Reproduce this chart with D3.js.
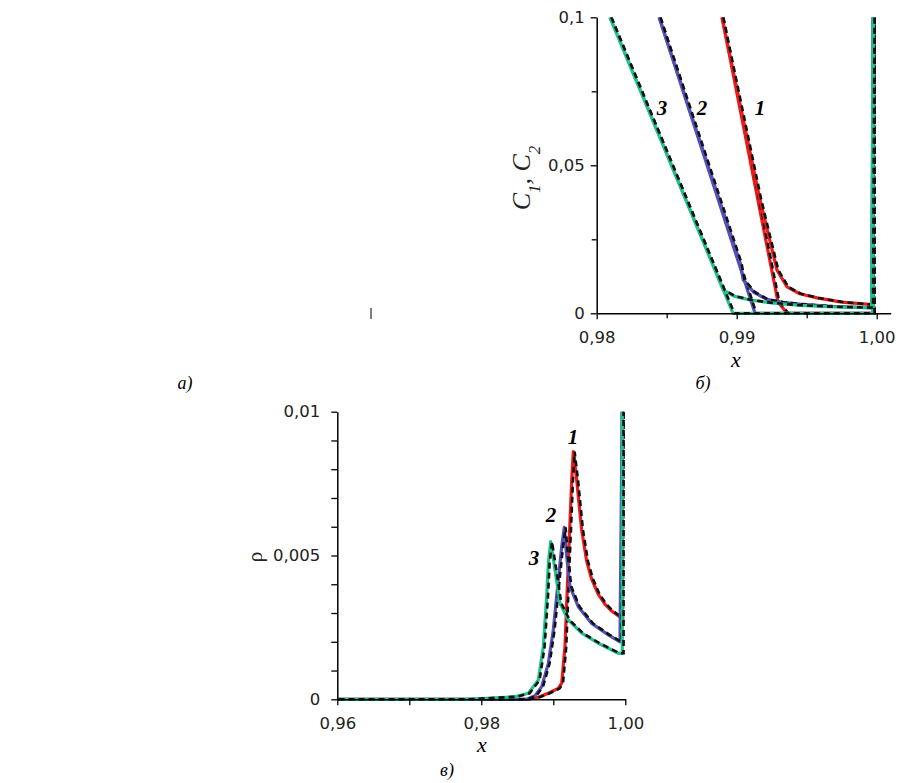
<!DOCTYPE html>
<html><head><meta charset="utf-8">
<script src="https://cdn.jsdelivr.net/npm/d3@7"></script>
<style>body{margin:0;background:#fff}</style>
</head><body>
<svg id="chart" width="903" height="783" xmlns="http://www.w3.org/2000/svg"></svg>
<script>
// ---------- Panel б : C1, C2 vs x ----------
const xbMajor = [0.98, 0.99, 1.00];
const xbLabels = ["0,98", "0,99", "1,00"];
const xbMinor = [0.985, 0.995];
const cMajor = [0, 0.05, 0.1];
const cLabels = ["0", "0,05", "0,1"];
const cMinor = [0.025, 0.075];

// C1 (sharp front) and C2 (smooth tail) for cases 1 (red), 2 (blue), 3 (green)
const c1Case1 = [[0.98895,0.1],[0.99295,0.0038],[0.9936,0],[0.99975,0],[0.99975,0.1]];
const c2Case1 = [[0.98895,0.1],[0.99167,0.0382],[0.99288,0.0146],[0.9936,0.0089],[0.9945,0.0066],[0.99574,0.0052],[0.9975,0.0038],[0.99967,0.0029],[0.99975,0.1]];
const c1Case2 = [[0.98446,0.1],[0.99131,0],[0.99975,0],[0.99975,0.1]];
const c2Case2 = [[0.98446,0.1],[0.99025,0.017],[0.99047,0.0113],[0.9912,0.0072],[0.99214,0.0047],[0.9933,0.0037],[0.99452,0.0031],[0.9970,0.0023],[0.99964,0.0018],[0.99975,0.1]];
const c1Case3 = [[0.98095,0.1],[0.98974,0],[0.99975,0],[0.99975,0.1]];
const c2Case3 = [[0.98095,0.1],[0.98864,0.0125],[0.98904,0.0079],[0.9898,0.0058],[0.99095,0.0045],[0.9925,0.0035],[0.99452,0.0027],[0.9970,0.0022],[0.99964,0.0019],[0.99975,0.1]];

// ---------- Panel в : rho vs x ----------
const xcMajor = [0.96, 0.97, 0.98, 0.99, 1.00];
const xcLabels = ["0,96", "", "0,98", "", "1,00"];
const rhoTicks = [0,0.001,0.002,0.003,0.004,0.005,0.006,0.007,0.008,0.009,0.01];
const rhoLabels = ["0","","","","","0,005","","","","","0,01"];

const rhoCase1 = [[0.96,0],[0.9865,0],[0.988,0.00008],[0.98931,0.00021],[0.99069,0.00038],[0.99117,0.00056],[0.99162,0.00183],[0.99208,0.00473],[0.99256,0.00763],[0.99278,0.00861],[0.99325,0.00763],[0.99394,0.00589],[0.99464,0.0048],[0.9953,0.0042],[0.99625,0.00365],[0.9972,0.0033],[0.99811,0.00307],[0.9995,0.00282],[0.99958,0.0105]];
const rhoCase2 = [[0.96,0],[0.9863,0],[0.98745,0.00012],[0.98839,0.00044],[0.98931,0.00125],[0.99,0.00241],[0.99069,0.00415],[0.99117,0.00531],[0.99153,0.00598],[0.99186,0.00496],[0.99232,0.00392],[0.99347,0.00322],[0.99533,0.00264],[0.99764,0.00224],[0.99926,0.002],[0.99958,0.0105]];
const rhoCase3 = [[0.96,0],[0.978,0],[0.98468,0.00009],[0.98653,0.00021],[0.98792,0.00067],[0.98861,0.00183],[0.98908,0.00357],[0.98931,0.00473],[0.98964,0.00548],[0.99024,0.0045],[0.99093,0.00334],[0.99208,0.00276],[0.99394,0.0023],[0.99625,0.00195],[0.99903,0.0016],[0.99958,0.0016],[0.99958,0.0105]];

const caseColors = ["#f01a1a", "#5252bc", "#1fc48c"];
const caseNames = ["1", "2", "3"];

const svg = d3.select("#chart");
svg.append("rect").attr("width",903).attr("height",783).attr("fill","#fff");

const tickFont = "'DejaVu Sans', Verdana, sans-serif";
const serif = "'Liberation Serif', 'Times New Roman', serif";

function labelFmt(vals, labels){
  return v => { const i = vals.findIndex(t => Math.abs(t - v) < 1e-9); return i >= 0 ? labels[i] : ""; };
}
function styleAxis(g){
  g.selectAll("path.domain").attr("stroke","#000").attr("stroke-width",1.5);
  g.selectAll(".tick line").attr("stroke","#000").attr("stroke-width",1.3);
  g.selectAll("text").attr("font-family",tickFont).attr("font-size",16.5).attr("fill","#222");
}
function drawSeries(g, data, x, y, color){
  const line = d3.line().x(d => x(d[0])).y(d => y(d[1]));
  g.append("path").attr("d", line(data)).attr("fill","none")
    .attr("stroke", color).attr("stroke-width", 3.2).attr("stroke-linejoin","round");
  g.append("path").attr("d", line(data)).attr("fill","none")
    .attr("stroke", "#111").attr("stroke-width", 2.6).attr("stroke-dasharray","6,4")
    .attr("transform","translate(1.3,0)");
}

// ===== Panel б =====
{
  const x = d3.scaleLinear().domain([0.98, 1.001]).range([596.7, 890.7]);
  const y = d3.scaleLinear().domain([0, 0.1]).range([313.3, 17.3]);
  const defs = svg.append("defs");
  defs.append("clipPath").attr("id","clipB").append("rect")
    .attr("x", x(0.98)).attr("y", y(0.1)).attr("width", x(1.001)-x(0.98)).attr("height", y(0)-y(0.1)+2);
  const plot = svg.append("g").attr("clip-path","url(#clipB)");
  const sets = [[c1Case1,c2Case1],[c1Case2,c2Case2],[c1Case3,c2Case3]];
  sets.forEach((s,i) => { s.forEach(d => drawSeries(plot, d, x, y, caseColors[i])); });

  const gx = svg.append("g").attr("transform",`translate(0,${y(0)})`)
    .call(d3.axisBottom(x).tickValues(xbMajor).tickSize(6).tickSizeOuter(0).tickPadding(12).tickFormat(labelFmt(xbMajor,xbLabels)));
  styleAxis(gx);
  const gxm = svg.append("g").attr("transform",`translate(0,${y(0)})`)
    .call(d3.axisBottom(x).tickValues(xbMinor).tickSize(5).tickFormat(""));
  gxm.select("path.domain").remove(); styleAxis(gxm);
  const gy = svg.append("g").attr("transform",`translate(${x(0.98)},0)`)
    .call(d3.axisLeft(y).tickValues(cMajor).tickSize(6).tickSizeOuter(0).tickPadding(6).tickFormat(labelFmt(cMajor,cLabels)));
  styleAxis(gy);
  const gym = svg.append("g").attr("transform",`translate(${x(0.98)},0)`)
    .call(d3.axisLeft(y).tickValues(cMinor).tickSize(5).tickFormat(""));
  gym.select("path.domain").remove(); styleAxis(gym);

  const numPos = [[760,108],[702,108],[662,108]];
  caseNames.forEach((n,i) => svg.append("text").attr("x",numPos[i][0]).attr("y",numPos[i][1])
    .attr("text-anchor","middle").attr("dominant-baseline","central")
    .attr("font-family",serif).attr("font-style","italic").attr("font-weight","bold").attr("font-size",21).text(n));

  const yl = svg.append("text").attr("transform","translate(530,178) rotate(-90)")
    .attr("text-anchor","middle").attr("font-family",serif).attr("font-style","italic").attr("font-size",26).attr("fill","#222");
  yl.append("tspan").text("C");
  yl.append("tspan").attr("baseline-shift","sub").attr("font-size",17).text("1");
  yl.append("tspan").text(", C");
  yl.append("tspan").attr("baseline-shift","sub").attr("font-size",17).text("2");

  svg.append("text").attr("x",736).attr("y",359).attr("text-anchor","middle").attr("dominant-baseline","central")
    .attr("font-family",serif).attr("font-style","italic").attr("font-size",22).text("x");
  svg.append("text").attr("x",703).attr("y",383).attr("text-anchor","middle").attr("dominant-baseline","central")
    .attr("font-family",serif).attr("font-style","italic").attr("font-size",18).text("б)");
}

// ===== Panel в =====
{
  const x = d3.scaleLinear().domain([0.96, 1.00]).range([337.3, 625.3]);
  const y = d3.scaleLinear().domain([0, 0.01]).range([699.3, 411.7]);
  svg.select("defs").append("clipPath").attr("id","clipC").append("rect")
    .attr("x", x(0.96)).attr("y", y(0.01)).attr("width", x(1.0)-x(0.96)+2).attr("height", y(0)-y(0.01)+2);
  const plot = svg.append("g").attr("clip-path","url(#clipC)");
  [rhoCase1, rhoCase2, rhoCase3].forEach((d,i) => drawSeries(plot, d, x, y, caseColors[i]));

  const gx = svg.append("g").attr("transform",`translate(0,${y(0)})`)
    .call(d3.axisBottom(x).tickValues(xcMajor).tickSize(6).tickSizeOuter(0).tickPadding(12).tickFormat(labelFmt(xcMajor,xcLabels)));
  styleAxis(gx);
  const gy = svg.append("g").attr("transform",`translate(${x(0.96)},0)`)
    .call(d3.axisLeft(y).tickValues(rhoTicks).tickSize(6).tickSizeOuter(0).tickPadding(11).tickFormat(labelFmt(rhoTicks,rhoLabels)));
  styleAxis(gy);

  const numPos = [[573,437],[551,515],[534,558]];
  caseNames.forEach((n,i) => svg.append("text").attr("x",numPos[i][0]).attr("y",numPos[i][1])
    .attr("text-anchor","middle").attr("dominant-baseline","central")
    .attr("font-family",serif).attr("font-style","italic").attr("font-weight","bold").attr("font-size",21).text(n));

  svg.append("text").attr("transform","translate(262,557) rotate(-90)").attr("text-anchor","middle")
    .attr("font-family",serif).attr("font-size",22).attr("fill","#222").text("ρ");
  svg.append("text").attr("x",482).attr("y",744).attr("text-anchor","middle").attr("dominant-baseline","central")
    .attr("font-family",serif).attr("font-style","italic").attr("font-size",22).text("x");
  svg.append("text").attr("x",447).attr("y",770).attr("text-anchor","middle").attr("dominant-baseline","central")
    .attr("font-family",serif).attr("font-style","italic").attr("font-size",18).text("в)");
}

// ===== Panel а (empty in source) =====
svg.append("line").attr("x1",371).attr("x2",371).attr("y1",308).attr("y2",319).attr("stroke","#555").attr("stroke-width",1.5);
svg.append("text").attr("x",185).attr("y",383).attr("text-anchor","middle").attr("dominant-baseline","central")
  .attr("font-family",serif).attr("font-style","italic").attr("font-size",18).text("а)");
</script>
</body></html>
